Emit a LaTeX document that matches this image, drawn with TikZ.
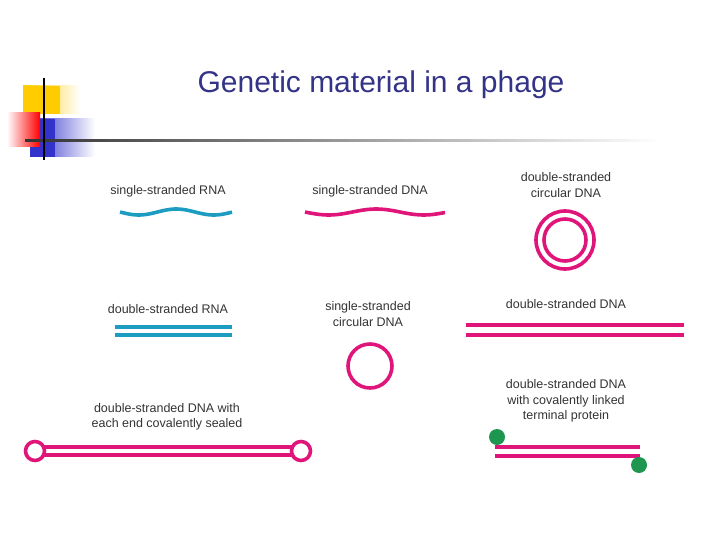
\documentclass[tikz,border=0pt]{standalone}
\usepackage{fontspec}
\setmainfont{Liberation Sans}
\definecolor{mag}{HTML}{E0157A}
\definecolor{cy}{HTML}{1B9CC0}
\definecolor{grn}{HTML}{1E9650}
\definecolor{ttl}{HTML}{333388}
\definecolor{lbl}{HTML}{333333}
\definecolor{gold}{HTML}{FFCC00}
\definecolor{dblue}{HTML}{3333CC}
\begin{document}
\begin{tikzpicture}[x=1pt,y=-1pt,
  lab/.style={text=lbl,font=\fontsize{12.5}{15.5}\selectfont,align=center,inner sep=0pt},
  ms/.style={draw=mag,line width=3.6pt},
  cs/.style={draw=cy,line width=3.6pt}]
\useasboundingbox (0,0) rectangle (720,540);
% decoration
\shade[left color=gold,right color=white] (23,86) rectangle (80,114);
\fill[gold] (23,86) rectangle (60,114);
\shade[left color=dblue,right color=white] (30,119) rectangle (95,157);
\fill[dblue] (30,119) rectangle (55,157);
\shade[left color=white,right color=red] (7,113) rectangle (40,147);
\shade[left color=black!80,right color=white] (25,140) rectangle (660,142);
\draw[black,line width=1.5pt] (44,78) -- (44,160);
\node[text=ttl,font=\fontsize{30}{34}\selectfont] (title) at (381,85) {Genetic material in a phage};
% row 1
\node[lab] (l1) at (168,191) {single-stranded RNA};
\draw[cs,smooth] plot[domain=0:112,samples=40] ({\x+120},{212+3*sin(\x*4.8)});
\node[lab] (l2) at (370,191) {single-stranded DNA};
\draw[ms,smooth] plot[domain=0:140,samples=40] ({\x+305},{212+3*sin(\x*3.79)});
\node[lab] (l3) at (566,185) {double-stranded\\circular DNA};
\node[draw=mag,line width=3.6pt,circle,minimum size=58pt] (c1) at (565,240) {};
\node[draw=mag,line width=3.6pt,circle,minimum size=42pt] (c2) at (565,240) {};
% row 2
\node[lab] (l4) at (168,309) {double-stranded RNA};
\draw[cs] (115,327) -- (232,327);
\draw[cs] (115,335) -- (232,335);
\node[lab] (l5) at (368,314) {single-stranded\\circular DNA};
\node[draw=mag,line width=3.6pt,circle,minimum size=44pt] (c3) at (370,366) {};
\node[lab] (l6) at (566,304) {double-stranded DNA};
\draw[ms] (466,325) -- (684,325);
\draw[ms] (466,335) -- (684,335);
% row 3
\node[lab] (l7) at (167,417) {double-stranded DNA with\\each end covalently sealed};
\draw[ms] (40,447) -- (294,447);
\draw[ms] (40,455) -- (294,455);
\node[draw=mag,line width=3.6pt,circle,minimum size=19pt,fill=white] (e1) at (35,451) {};
\node[draw=mag,line width=3.6pt,circle,minimum size=19pt,fill=white] (e2) at (301,451) {};
\node[lab] (l8) at (566,401) {double-stranded DNA\\with covalently linked\\terminal protein};
\draw[ms] (495,447) -- (640,447);
\draw[ms] (495,456) -- (640,456);
\fill[grn] (497,437) circle (8);
\fill[grn] (639,465) circle (8);
\end{tikzpicture}
\end{document}
